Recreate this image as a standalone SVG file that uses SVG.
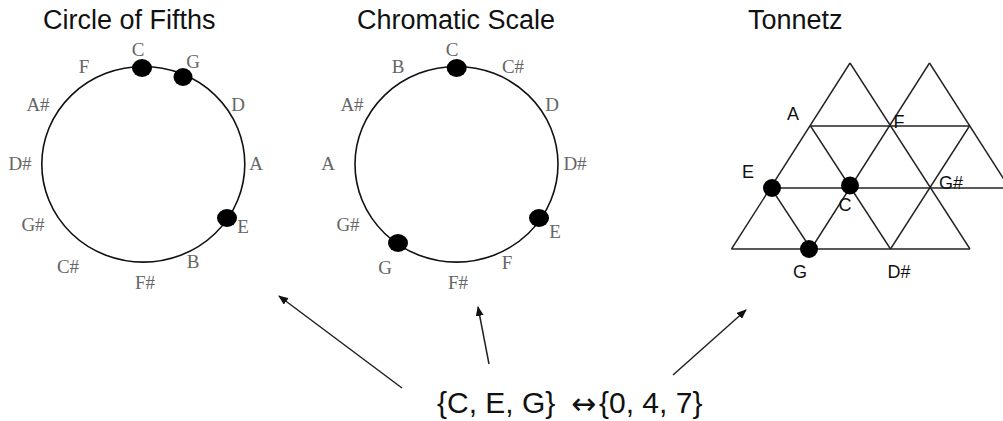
<svg xmlns="http://www.w3.org/2000/svg" width="1003" height="421" viewBox="0 0 1003 421">
<defs>
<style>
.title{font-family:"Liberation Sans",Arial,sans-serif;font-size:27px;fill:#111}
.note{font-family:"Liberation Serif","Times New Roman",serif;font-size:19px;fill:#666;text-anchor:middle}
.tn{font-family:"Liberation Sans",Arial,sans-serif;font-size:18px;fill:#111;text-anchor:middle}
.ring{fill:none;stroke:#111;stroke-width:1.6}
.dot{fill:#000}
.grid line{stroke:#222;stroke-width:1.4}
.conn{stroke:#222;stroke-width:1.5;fill:none;marker-end:url(#ah)}
.set{font-family:"Liberation Sans",Arial,sans-serif;font-size:30px;fill:#111}
.arr{font-family:"DejaVu Sans",sans-serif;font-size:30px;fill:#111}
</style>
<marker id="ah" viewBox="0 0 10 8" refX="9" refY="4" markerWidth="10" markerHeight="8" markerUnits="userSpaceOnUse" orient="auto">
<path d="M0,0 L10,4 L0,8 Z" fill="#111"/>
</marker>
</defs>
<rect width="1003" height="421" fill="#fff"/>

<g id="circle-of-fifths">
<text class="title" x="43" y="29">Circle of Fifths</text>
<ellipse class="ring" cx="143.3" cy="164.3" rx="101.5" ry="97.8"/>
<ellipse class="dot" cx="142" cy="68" rx="10" ry="9"/>
<ellipse class="dot" cx="183" cy="77" rx="9.5" ry="9"/>
<ellipse class="dot" cx="227" cy="218" rx="10" ry="9"/>
<text class="note" x="138" y="56">C</text>
<text class="note" x="193" y="68">G</text>
<text class="note" x="84" y="73">F</text>
<text class="note" x="38" y="111">A#</text>
<text class="note" x="238" y="111">D</text>
<text class="note" x="20" y="170">D#</text>
<text class="note" x="256" y="170">A</text>
<text class="note" x="33" y="231">G#</text>
<text class="note" x="243" y="233">E</text>
<text class="note" x="68" y="273">C#</text>
<text class="note" x="193" y="268">B</text>
<text class="note" x="145" y="289">F#</text>
</g>

<g id="chromatic-scale">
<text class="title" x="357" y="29">Chromatic Scale</text>
<ellipse class="ring" cx="456.5" cy="164.3" rx="101.5" ry="97.8"/>
<ellipse class="dot" cx="456.7" cy="68" rx="10" ry="9"/>
<ellipse class="dot" cx="539" cy="218" rx="10" ry="9"/>
<ellipse class="dot" cx="398" cy="243" rx="10" ry="9"/>
<text class="note" x="452" y="56">C</text>
<text class="note" x="398" y="73">B</text>
<text class="note" x="513" y="73">C#</text>
<text class="note" x="352" y="111">A#</text>
<text class="note" x="552" y="111">D</text>
<text class="note" x="328" y="170">A</text>
<text class="note" x="575" y="170">D#</text>
<text class="note" x="348" y="231">G#</text>
<text class="note" x="555" y="238">E</text>
<text class="note" x="385" y="274">G</text>
<text class="note" x="507" y="269">F</text>
<text class="note" x="458" y="289">F#</text>
</g>

<g id="tonnetz">
<text class="title" x="748" y="29">Tonnetz</text>
<g class="grid">
<line x1="810.5" y1="126" x2="969.5" y2="126"/>
<line x1="771" y1="188" x2="1010" y2="188"/>
<line x1="731.5" y1="249" x2="970" y2="249"/>
<line x1="731.5" y1="249" x2="850" y2="63"/>
<line x1="811" y1="249" x2="929.5" y2="63"/>
<line x1="890.5" y1="249" x2="969.5" y2="126"/>
<line x1="850" y1="63" x2="970" y2="249"/>
<line x1="929.5" y1="63" x2="1009.5" y2="188"/>
<line x1="810.5" y1="126" x2="890.5" y2="249"/>
<line x1="771" y1="188" x2="811" y2="249"/>
</g>
<circle class="dot" cx="772" cy="188" r="9"/>
<circle class="dot" cx="850" cy="185.5" r="9"/>
<circle class="dot" cx="809" cy="249" r="9"/>
<text class="tn" x="793" y="120">A</text>
<text class="tn" x="899" y="128">F</text>
<text class="tn" x="748" y="178">E</text>
<text class="tn" x="845" y="211">C</text>
<text class="tn" x="951" y="189">G#</text>
<text class="tn" x="800" y="278">G</text>
<text class="tn" x="899" y="278">D#</text>
</g>

<g id="pitch-set">
<text class="set" x="437" y="413">{C, E, G}</text>
<text class="arr" x="571" y="414">↔</text>
<text class="set" x="599" y="413">{0, 4, 7}</text>
</g>

<g id="connectors">
<line class="conn" x1="402" y1="388" x2="279" y2="296"/>
<line class="conn" x1="489" y1="364" x2="478" y2="307"/>
<line class="conn" x1="673" y1="375" x2="746" y2="310"/>
</g>
</svg>
